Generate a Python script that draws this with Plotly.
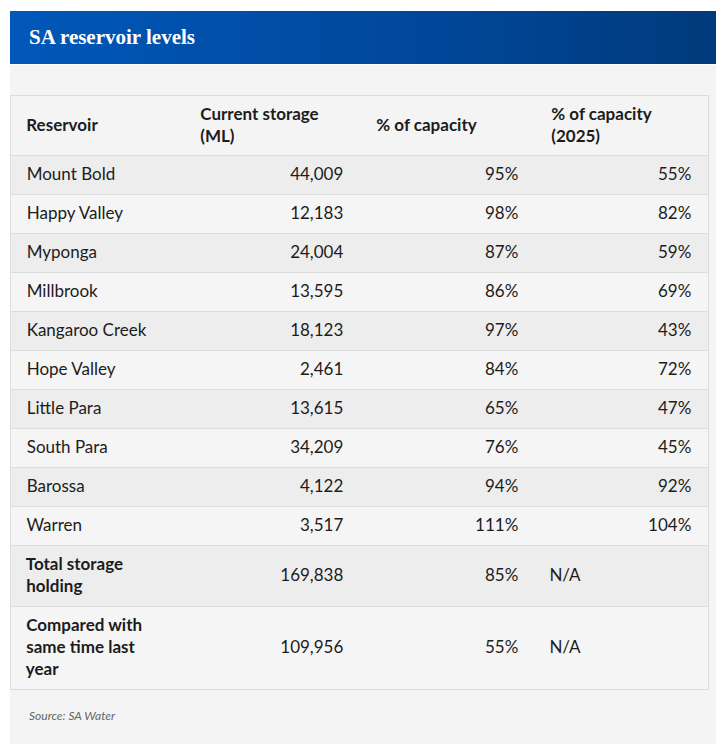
import math
import plotly.graph_objects as go

# page body adds an 8px margin, so the figure is drawn in page pixels from (8, 8)
OFF = 8
W, H = 726 - OFF, 744 - OFF

# data
reservoirs = ["Mount Bold", "Happy Valley", "Myponga", "Millbrook", "Kangaroo Creek",
              "Hope Valley", "Little Para", "South Para", "Barossa", "Warren"]
storage_ml = [44009, 12183, 24004, 13595, 18123, 2461, 13615, 34209, 4122, 3517]
pct_capacity = [95, 98, 87, 86, 97, 84, 65, 76, 94, 111]
pct_capacity_2025 = [55, 82, 59, 69, 43, 72, 47, 45, 92, 104]

summary_labels = ["Total storage<br>holding", "Compared with<br>same time last<br>year"]
summary_storage = [169838, 109956]
summary_pct = [85, 55]
summary_2025 = ["N/A", "N/A"]

headers = ["Reservoir", "Current storage<br>(ML)", "% of capacity", "% of capacity<br>(2025)"]

FONT = "Source Sans Pro, Lato, sans-serif"
FS = 17
LH = FS * 1.3  # plotly line spacing
PAD = "\u00a0\u00a0"
DARK, LIGHT = "#ededed", "#f5f5f5"
TXT = "#1c1c1c"
GROW = "<span style='baseline-shift:-2px'>\u00a0</span>"


def span(s):
    return "<span>" + s + "</span>"


def padded_lines(s):
    return "<br>".join(PAD + part for part in s.split("<br>"))


def middle(s, n_lines):
    # plotly puts cell text at the top; centre a one-line value in an n-line row
    # with blank leading lines and a baseline shift
    need = (n_lines - 1) * LH / 2
    if need == 0:
        return span(s)
    blanks = math.ceil(need / LH)
    shift = blanks * LH - need
    return "\u00a0<br>" * blanks + f"<span style='baseline-shift:{shift:.1f}px'>" + s + "</span>"


def head(s):
    if "<br>" not in s:
        return middle("<b>" + PAD + s + "</b>", 2)
    return "<b>" + padded_lines(s) + "</b>"


def bold_label(s):
    # a shifted blank at the end makes the row a little taller, like the original
    return "<b>" + padded_lines(s) + "</b>" + GROW


sum_lines = [s.count("<br>") + 1 for s in summary_labels]

col1 = [span(PAD + r) for r in reservoirs] + [bold_label(s) for s in summary_labels]
col2 = [span(f"{v:,}" + PAD) for v in storage_ml] + \
       [middle(f"{v:,}" + PAD, k) for v, k in zip(summary_storage, sum_lines)]
col3 = [span(f"{v}%" + PAD) for v in pct_capacity] + \
       [middle(f"{v}%" + PAD, k) for v, k in zip(summary_pct, sum_lines)]
# N/A sits at the left of a right-aligned column, so push it with em spaces
col4 = [span(f"{v}%" + PAD) for v in pct_capacity_2025] + \
       [middle(s + "\u2003" * 8 + PAD + PAD, k) for s, k in zip(summary_2025, sum_lines)]

n = len(col1)
row_fill = [DARK if i % 2 == 0 else LIGHT for i in range(n)]

tbl_x = [(10 - OFF) / W, (708 - OFF) / W]
tbl_y = [1 - (705 - OFF) / H, 1 - (95 - OFF) / H]

fig = go.Figure()

# header bar with gradient
fig.add_trace(go.Scatter(
    x=[10, 716, 716, 10, 10], y=[11, 11, 64, 64, 11],
    fill="toself", mode="none", hoverinfo="skip",
    fillgradient=dict(type="horizontal",
                      colorscale=[[0, "#0058b9"], [0.6, "#00479a"], [1, "#003a7b"]]),
))

fig.add_trace(go.Table(
    domain=dict(x=tbl_x, y=tbl_y),
    columnwidth=[174, 176, 175, 173],
    header=dict(
        values=[head(h) for h in headers],
        fill_color="#f4f4f4",
        line=dict(width=0),
        align="left",
        font=dict(family=FONT, size=FS, color=TXT),
        height=60,
    ),
    cells=dict(
        values=[col1, col2, col3, col4],
        fill_color=[row_fill] * 4,
        line=dict(width=0),
        align=["left", "right", "right", "right"],
        font=dict(family=FONT, size=FS, color=TXT),
        height=39,
    ),
))


# overlay table: only horizontal rules and the outer border
def blank_lines(s):
    lines = "<br>".join(["\u00a0"] * (s.count("<br>") + 1))
    if GROW in s:
        lines += GROW
    return span(lines)


fig.add_trace(go.Table(
    domain=dict(x=tbl_x, y=tbl_y),
    columnwidth=[1],
    header=dict(
        values=[span("\u00a0")],
        fill_color="rgba(0,0,0,0)",
        line=dict(color="#dddddd", width=1),
        font=dict(family=FONT, size=FS),
        height=60,
    ),
    cells=dict(
        values=[[blank_lines(s) for s in col1]],
        fill_color="rgba(0,0,0,0)",
        line=dict(color="#dddddd", width=1),
        font=dict(family=FONT, size=FS),
        height=39,
    ),
))

fig.add_annotation(x=27, y=37, xref="x", yref="y", text="<b>SA reservoir levels</b>",
                   showarrow=False, xanchor="left", yanchor="middle",
                   font=dict(family="Source Serif Pro, Liberation Serif, serif", size=21, color="white"))
fig.add_annotation(x=27, y=715, xref="x", yref="y", text="<i>Source: SA Water</i>",
                   showarrow=False, xanchor="left", yanchor="middle",
                   font=dict(family=FONT, size=12, color="#666666"))

fig.update_layout(
    width=W, height=H,
    margin=dict(l=0, r=0, t=0, b=0),
    paper_bgcolor="white", plot_bgcolor="rgba(0,0,0,0)",
    showlegend=False,
    xaxis=dict(range=[OFF, 726], visible=False, fixedrange=True),
    yaxis=dict(range=[744, OFF], visible=False, fixedrange=True),
    shapes=[dict(type="rect", xref="x", yref="y", x0=10, x1=716, y0=65, y1=744,
                 fillcolor="#f4f4f4", line=dict(width=0), layer="below")],
)

fig.write_html("out.html")
